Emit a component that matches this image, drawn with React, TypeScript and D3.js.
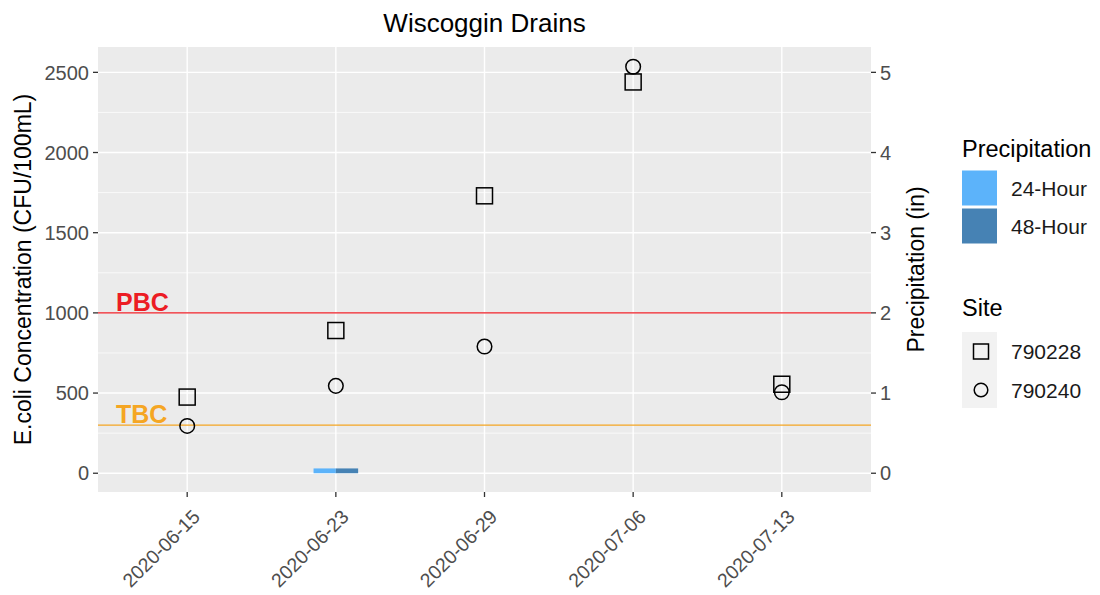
import * as d3 from "d3";

const dates = ["2020-06-15", "2020-06-23", "2020-06-29", "2020-07-06", "2020-07-13"];
const site790228 = [475, 890, 1730, 2440, 555];
const site790240 = [295, 545, 790, 2535, 505];
const precip24 = [0, 0.06, 0, 0, 0];
const precip48 = [0, 0.06, 0, 0, 0];
const concTicks = [0, 500, 1000, 1500, 2000, 2500];
const concMinor = [250, 750, 1250, 1750, 2250];
const precipTicks = [0, 1, 2, 3, 4, 5];
const precipSeries = ["24-Hour", "48-Hour"];
const siteNames = ["790228", "790240"];
const thresholds = [
  { label: "PBC", value: 1000, color: "#EC1C24" },
  { label: "TBC", value: 300, color: "#F5A623" },
];

const W = 1100;
const H = 595;
const panel = { left: 98, right: 871, top: 47, bottom: 492 };
const FONT = "'Liberation Sans', Arial, sans-serif";
const precipColors = ["#5CB3FA", "#4682B4"];

export default function App() {
  const x = d3
    .scalePoint<string>()
    .domain(dates)
    .range([panel.left, panel.right])
    .padding(0.6);

  const y = d3.scaleLinear().domain([-117, 2658]).range([panel.bottom, panel.top]);
  // secondary axis: 1 in = 500 CFU/100mL
  const yP = d3
    .scaleLinear()
    .domain(y.domain().map((v) => v / 500))
    .range(y.range());

  const dodge = d3
    .scaleBand<string>()
    .domain(precipSeries)
    .range([-x.step() * 0.15, x.step() * 0.15]);

  const precipRows = dates.flatMap((d, i) => [
    { date: d, series: "24-Hour", value: precip24[i] },
    { date: d, series: "48-Hour", value: precip48[i] },
  ]);

  const tickColor = "#333333";
  const labelColor = "#4D4D4D";
  const tickFs = 20;

  return (
    <svg
      width={W}
      height={H}
      style={{ position: "absolute", left: 0, top: 0, background: "#fff" }}
      fontFamily={FONT}
    >
      {/* panel */}
      <rect
        x={panel.left}
        y={panel.top}
        width={panel.right - panel.left}
        height={panel.bottom - panel.top}
        fill="#EBEBEB"
      />
      {concMinor.map((t) => (
        <line key={"mn" + t} x1={panel.left} x2={panel.right} y1={y(t)} y2={y(t)} stroke="#fff" strokeWidth={0.7} />
      ))}
      {concTicks.map((t) => (
        <line key={"mj" + t} x1={panel.left} x2={panel.right} y1={y(t)} y2={y(t)} stroke="#fff" strokeWidth={1.4} />
      ))}
      {dates.map((d) => (
        <line key={"vx" + d} x1={x(d)} x2={x(d)} y1={panel.top} y2={panel.bottom} stroke="#fff" strokeWidth={1.4} />
      ))}

      {/* precipitation bars */}
      {precipRows.map((r, i) => {
        const y0 = yP(0);
        const y1 = yP(r.value);
        return (
          <rect
            key={"bar" + i}
            x={(x(r.date) as number) + (dodge(r.series) as number)}
            y={Math.min(y0, y1)}
            width={dodge.bandwidth()}
            height={Math.abs(y0 - y1)}
            fill={precipColors[precipSeries.indexOf(r.series)]}
          />
        );
      })}

      {/* threshold lines */}
      {thresholds.map((t) => (
        <g key={t.label}>
          <line x1={panel.left} x2={panel.right} y1={y(t.value)} y2={y(t.value)} stroke={t.color} strokeWidth={1.4} />
          <text x={panel.left + 18} y={y(t.value) - 2} fontSize={25} fontWeight="bold" fill={t.color}>
            {t.label}
          </text>
        </g>
      ))}

      {/* points */}
      {dates.map((d, i) => {
        const cx = x(d) as number;
        const s = 16;
        return (
          <g key={"pt" + d} fill="none" stroke="#000" strokeWidth={1.5}>
            <rect x={cx - s / 2} y={y(site790228[i]) - s / 2} width={s} height={s} />
            <circle cx={cx} cy={y(site790240[i])} r={7.3} />
          </g>
        );
      })}

      {/* left axis */}
      {concTicks.map((t) => (
        <g key={"la" + t}>
          <line x1={panel.left - 5} x2={panel.left} y1={y(t)} y2={y(t)} stroke={tickColor} strokeWidth={1.3} />
          <text x={panel.left - 9} y={y(t)} dy="0.36em" textAnchor="end" fontSize={tickFs} fill={labelColor}>
            {t}
          </text>
        </g>
      ))}
      {/* right axis */}
      {precipTicks.map((t) => (
        <g key={"ra" + t}>
          <line x1={panel.right} x2={panel.right + 5} y1={yP(t)} y2={yP(t)} stroke={tickColor} strokeWidth={1.3} />
          <text x={panel.right + 9} y={yP(t)} dy="0.36em" textAnchor="start" fontSize={tickFs} fill={labelColor}>
            {t}
          </text>
        </g>
      ))}
      {/* bottom axis */}
      {dates.map((d) => (
        <g key={"ba" + d}>
          <line x1={x(d)} x2={x(d)} y1={panel.bottom} y2={panel.bottom + 5} stroke={tickColor} strokeWidth={1.3} />
          <text
            transform={`translate(${(x(d) as number) + 14},${panel.bottom + 26}) rotate(-45)`}
            textAnchor="end"
            fontSize={19.5}
            fill={labelColor}
          >
            {d}
          </text>
        </g>
      ))}

      {/* titles */}
      <text x={(panel.left + panel.right) / 2} y={32} textAnchor="middle" fontSize={26} fill="#000">
        Wiscoggin Drains
      </text>
      <text
        transform={`translate(31,${(panel.top + panel.bottom) / 2}) rotate(-90)`}
        textAnchor="middle"
        fontSize={23}
        fill="#000"
      >
        E.coli Concentration (CFU/100mL)
      </text>
      <text
        transform={`translate(924,${(panel.top + panel.bottom) / 2}) rotate(-90)`}
        textAnchor="middle"
        fontSize={23}
        fill="#000"
      >
        Precipitation (in)
      </text>

      {/* legend: precipitation */}
      <text x={962} y={157} fontSize={23.5} fill="#000">
        Precipitation
      </text>
      {precipSeries.map((s, i) => (
        <g key={"lg" + s}>
          <rect x={962} y={170.5 + i * 38} width={35} height={35} fill={precipColors[i]} />
          <text x={1011} y={170.5 + i * 38 + 17.5} dy="0.36em" fontSize={21} fill="#1A1A1A">
            {s}
          </text>
        </g>
      ))}

      {/* legend: site */}
      <text x={962} y={316} fontSize={23.5} fill="#000">
        Site
      </text>
      <rect x={962} y={332} width={35} height={76} fill="#F2F2F2" />
      {siteNames.map((s, i) => {
        const cy = 351.5 + i * 38.5;
        return (
          <g key={"ls" + s}>
            {i === 0 ? (
              <rect x={981 - 7.5} y={cy - 7.5} width={15} height={15} fill="none" stroke="#000" strokeWidth={1.5} />
            ) : (
              <circle cx={981} cy={cy} r={6.8} fill="none" stroke="#000" strokeWidth={1.5} />
            )}
            <text x={1011} y={cy} dy="0.36em" fontSize={21} fill="#1A1A1A">
              {s}
            </text>
          </g>
        );
      })}
    </svg>
  );
}
